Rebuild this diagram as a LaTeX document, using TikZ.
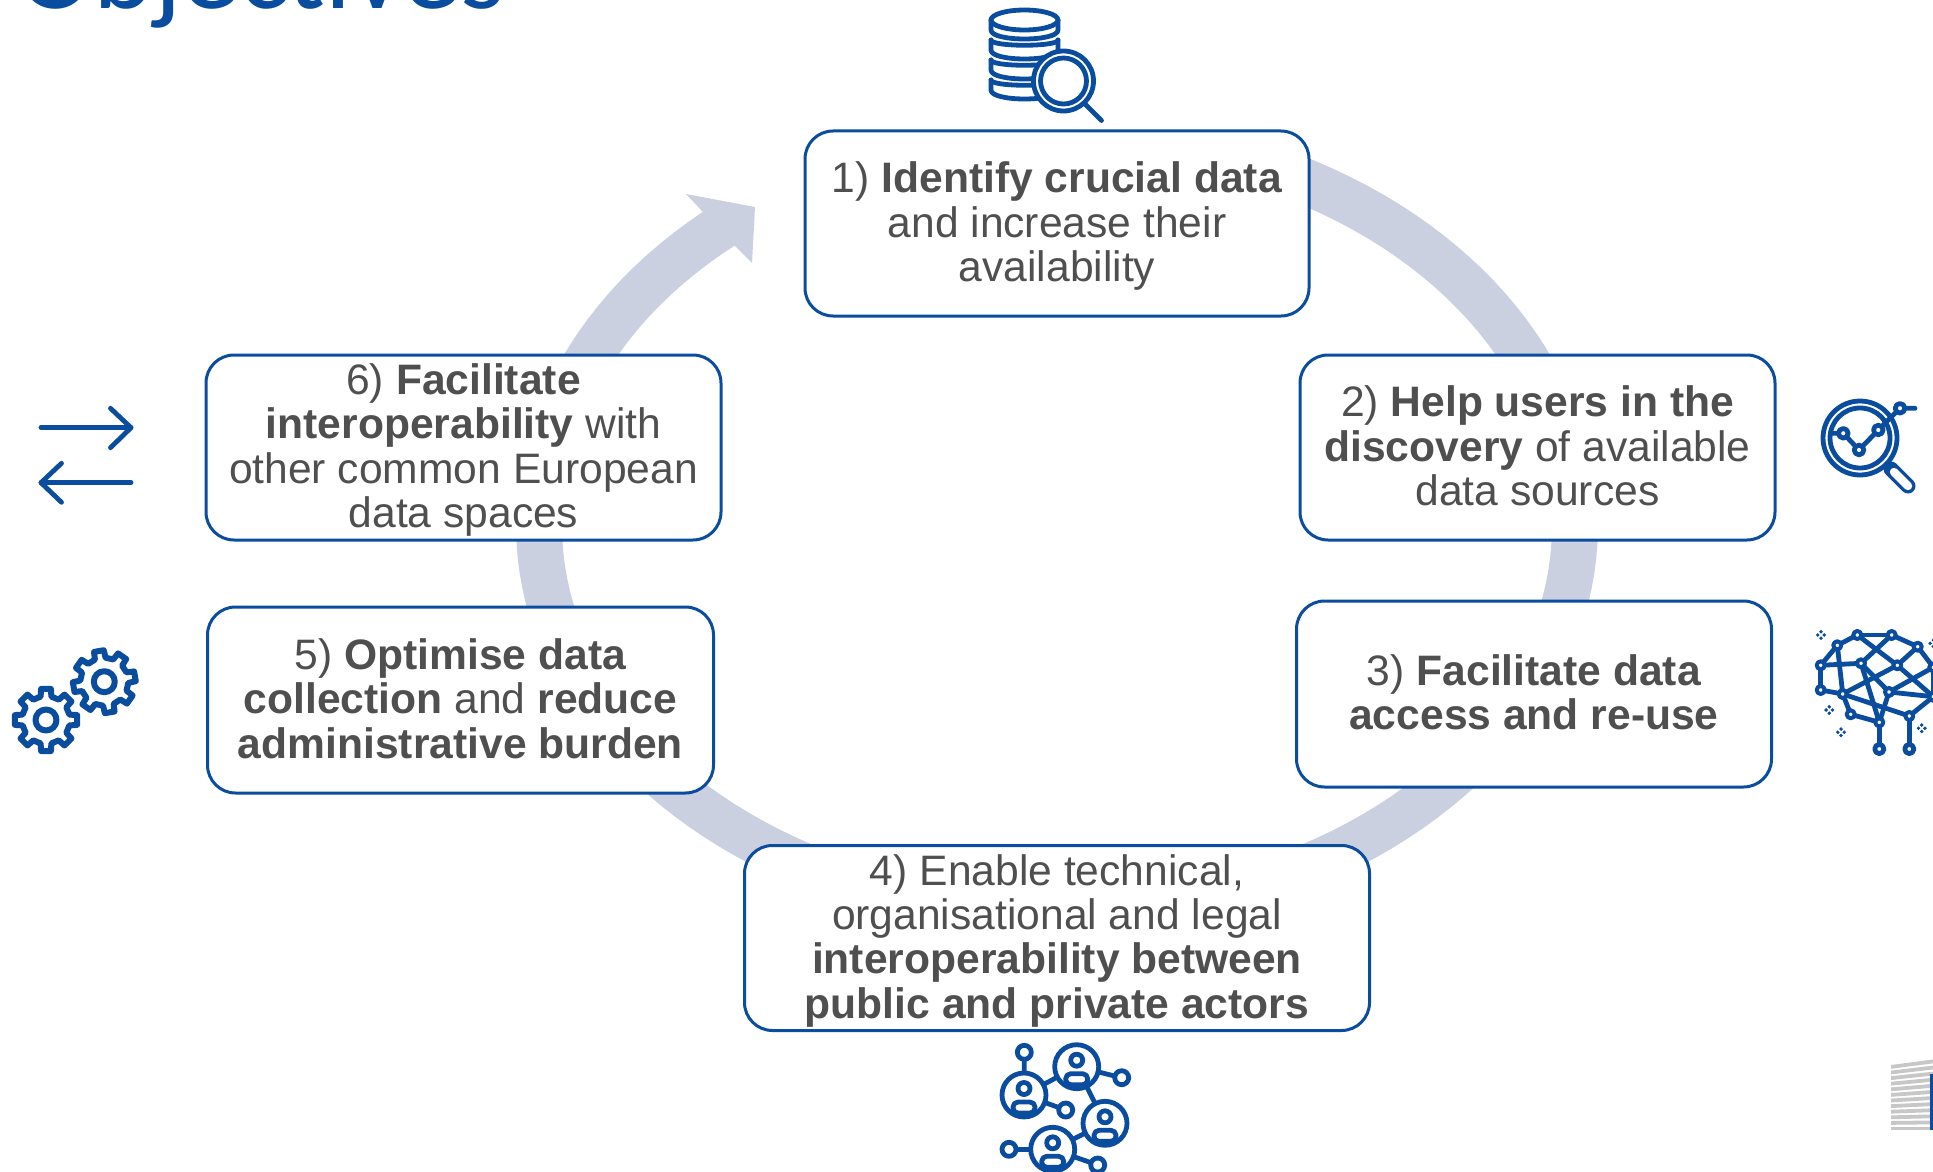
\documentclass[tikz,border=0pt]{standalone}
\usepackage{fontspec}
\setmainfont{Liberation Sans}
\newfontfamily\titlefont{Carlito}
\definecolor{ringc}{HTML}{CBD0E1}
\definecolor{bluec}{HTML}{0A4D9F}
\definecolor{textc}{HTML}{4F4F4F}
\newcommand{\topstrut}{\rule{0pt}{.92em}}
\newcommand{\botstrut}{\rule[-.28em]{0pt}{.28em}}
\tikzset{
  stepbox/.style={draw=bluec,line width=1.5pt,fill=white,rounded corners=14pt,inner sep=0pt,align=center,text=textc,font=\fontsize{21.3}{22.2}\selectfont},
  icon/.style={draw=bluec,line width=2.4pt,line cap=round,line join=round},
  iconw/.style={icon,fill=white},
}
\newcommand{\gearicon}[3]{%
  \draw[iconw,line width=3pt] ({#1+24*cos(#3-13)},{#2+24*sin(#3-13)})
    \foreach \k in {0,...,7}{
      -- ({#1+24*cos(#3+\k*45-13)},{#2+24*sin(#3+\k*45-13)})
      -- ({#1+31.5*cos(#3+\k*45-9)},{#2+31.5*sin(#3+\k*45-9)})
      -- ({#1+31.5*cos(#3+\k*45+9)},{#2+31.5*sin(#3+\k*45+9)})
      -- ({#1+24*cos(#3+\k*45+13)},{#2+24*sin(#3+\k*45+13)})
    } -- cycle;
  \draw[iconw,line width=3pt] (#1,#2) circle[radius=10.5];
}
\newcommand{\personicon}[2]{%
  \draw[iconw] (#1,#2) circle[radius=22];
  \draw[icon] (#1,#2-6.5) circle[radius=6];
  \draw[icon,rounded corners=2.5pt] (#1-11,#2+7) rectangle (#1+11,#2+18);
}
\newcommand{\sparkle}[2]{%
  \fill[bluec] (#1-3.2,#2) circle[radius=1.9] (#1+3.2,#2) circle[radius=1.9] (#1,#2-3.2) circle[radius=1.9] (#1,#2+3.2) circle[radius=1.9];
}
\begin{document}
\begin{tikzpicture}[x=0.5pt,y=-0.5pt]
\path[clip] (0,0) rectangle (1933,1172);
\fill[white] (0,0) rectangle (1933,1172);
% title
\node[anchor=base west,inner sep=0pt,text=bluec,font=\titlefont\fontsize{57.6}{64}\selectfont] (title) at (17,9) {Objectives};
% ring
\fill[ringc]
  plot[domain=68:-229.1,samples=140] ({1057+541*cos(\x)},{525.6-(sin(\x)>0?415:411)*sin(\x)})
  -- (686,194) -- (755,207) -- (752,263) -- (735,246)
  -- plot[domain=-229.4:68,samples=140] ({1057+495*cos(\x)},{525.6-(sin(\x)>0?369:367)*sin(\x)}) -- cycle;
% boxes
\node[stepbox,minimum width=504pt*0.5,minimum height=185pt*0.5] (b1) at (1057,223.5) {\topstrut 1) \textbf{Identify crucial data}\\and increase their\\availability\botstrut};
\node[stepbox,minimum width=475pt*0.5,minimum height=185pt*0.5] (b2) at (1537.5,447.5) {\topstrut 2) \textbf{Help users in the}\\\textbf{discovery} of available\\data sources\botstrut};
\node[stepbox,minimum width=475pt*0.5,minimum height=186pt*0.5] (b3) at (1534,694) {\topstrut 3) \textbf{Facilitate data}\\\textbf{access and re-use}\botstrut};
\node[stepbox,minimum width=625pt*0.5,minimum height=185pt*0.5] (b4) at (1057,938) {\topstrut 4) Enable technical,\\organisational and legal\\\textbf{interoperability between}\\\textbf{public and private actors}\botstrut};
\node[stepbox,minimum width=506pt*0.5,minimum height=186pt*0.5] (b5) at (460.5,700) {\topstrut 5) \textbf{Optimise data}\\\textbf{collection} and \textbf{reduce}\\\textbf{administrative burden}\botstrut};
\node[stepbox,minimum width=515pt*0.5,minimum height=185pt*0.5] (b6) at (463.5,447.5) {\topstrut 6) \textbf{Facilitate}\\\textbf{interoperability} with\\other common European\\data spaces\botstrut};
% icon 1: database and magnifier
\draw[icon] (1024.5,20) ellipse[x radius=33.5,y radius=10];
\foreach \y in {20,40,60,80}{
  \draw[icon] (991,\y) -- (991,\y+10) .. controls (991,\y+22) and (1058,\y+22) .. (1058,\y+10) -- (1058,\y);
}
\foreach \y in {40,60,80}{
  \draw[icon] (991,\y) .. controls (991,\y+7) and (1058,\y+7) .. (1058,\y);
}
\draw[iconw] (1063.5,81) circle[radius=30];
\draw[icon] (1063.5,81) circle[radius=23];
\draw[icon] (1085,104) -- (1101.5,120.5);
% icon 2: magnifier with chart
\draw[icon] (1860,438) circle[radius=37];
\draw[icon] (1860,438) circle[radius=30];
\draw[bluec,line width=7.5pt,line cap=round] (1891,469) -- (1908,486);
\draw[white,line width=4.2pt,line cap=round] (1894,472) -- (1908,486);
\draw[icon] (1831.7,433.3) -- (1843.3,433.3) -- (1859,450) -- (1878.3,430) -- (1900,408.3) -- (1915,408.3);
\foreach \p/\q in {1843.3/433.3,1859/450,1878.3/430,1900/408.3}{
  \draw[iconw] (\p,\q) circle[radius=4.8];
}
% icon 3: network brain
\foreach \n/\p/\q in {1/1857.3/635,2/1891.7/635,3/1837.3/645.3,4/1917.7/646.7,5/1820.7/665.3,6/1861/663.3,7/1897.3/665.3,8/1933.3/667.3,9/1820.7/690,10/1842.7/694,11/1889/692,12/1933.3/696.7,13/1850.7/714.3,14/1879.3/722.3,15/1909.3/716,16/1879.3/749,17/1909.3/749}{
  \coordinate (n\n) at (\p,\q);
}
\foreach \a/\b in {1/2,1/3,3/5,5/9,9/10,5/6,3/10,1/7,2/6,2/4,4/7,4/8,6/14,6/11,10/7,7/12,11/8,11/12,11/14,10/13,13/14,10/15,15/12,14/16,15/17,8/12}{
  \draw[icon] (n\a) -- (n\b);
}
\foreach \n in {1,...,15}{
  \draw[iconw,line width=2pt] (n\n) circle[radius=4];
}
\foreach \n in {16,17}{
  \draw[iconw] (n\n) circle[radius=4.6];
}
\sparkle{1821}{635}
\sparkle{1829.3}{710}
\sparkle{1841}{732.3}
\sparkle{1921.7}{728.3}
\sparkle{1933.3}{643.3}
% icon 4: people network
\foreach \p/\q/\r/\s in {1024/1095/1024.3/1052.3,1076.7/1066.7/1121.7/1077.7,1024/1095/1065.7/1110,1052.7/1149.3/1009/1149.3,1052.7/1149.3/1097.7/1165,1024/1095/1076.7/1066.7,1076.7/1066.7/1105/1123.3,1105/1123.3/1052.7/1149.3}{
  \draw[icon] (\p,\q) -- (\r,\s);
}
\foreach \p/\q in {1024.3/1052.3,1121.7/1077.7,1065.7/1110,1009/1149.3,1097.7/1165}{
  \draw[iconw] (\p,\q) circle[radius=7];
}
\personicon{1024}{1095}
\personicon{1076.7}{1066.7}
\personicon{1105}{1123.3}
\personicon{1052.7}{1149.3}
% icon 5: arrows
\draw[icon] (41,427.7) -- (131,427.7);
\draw[icon] (110.5,408.3) -- (131,427.7) -- (110.5,447.7);
\draw[icon] (131,482.7) -- (41,482.7);
\draw[icon] (61.5,463.3) -- (41,482.7) -- (61.5,502.3);
% icon 6: gears
\gearicon{46}{720}{-90}
\gearicon{104.3}{681.7}{-100}
% logo
\foreach \k in {0,...,11}{
  \fill[black!22] (1891,{1065+\k*5.6}) -- (1933,{1065+\k*5.6-(11-\k)*0.5}) -- (1933,{1065+\k*5.6-(11-\k)*0.5+3.8}) -- (1891,{1065+\k*5.6+3.8}) -- cycle;
}
\fill[bluec] (1930,1074) rectangle (1933,1130);
\end{tikzpicture}
\end{document}
